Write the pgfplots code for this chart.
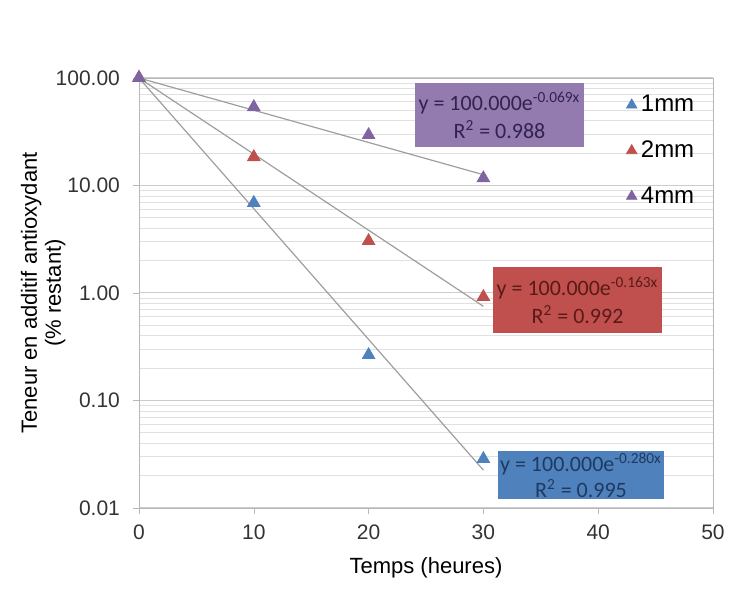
\documentclass[border=0pt]{standalone}
\usepackage{pgfplots}
\pgfplotsset{compat=1.18}
\usepackage{fontspec}
\setmainfont{Liberation Sans}
\newfontfamily\boxfont{Carlito}
\definecolor{c1}{HTML}{4F81BD}
\definecolor{c2}{HTML}{C0504D}
\definecolor{c4}{HTML}{8064A2}
\definecolor{t1}{HTML}{1F3A60}
\definecolor{t2}{HTML}{5A1A18}
\definecolor{t4}{HTML}{33224F}
\begin{document}
\begin{tikzpicture}
\path[use as bounding box] (-69.5pt,-47.5pt) rectangle (295pt,254pt);
\begin{axis}[
  at={(0,0)}, anchor=south west,
  scale only axis, width=287pt, height=215pt,
  ymode=log, log basis y=10,
  xmin=0, xmax=50, ymin=0.01, ymax=100,
  xtick={0,10,20,30,40,50},
  ytick={0.01,0.1,1,10,100},
  yticklabels={0.01,0.10,1.00,10.00,100.00},
  minor ytick={0.02,0.03,0.04,0.05,0.06,0.07,0.08,0.09,
               0.2,0.3,0.4,0.5,0.6,0.7,0.8,0.9,
               2,3,4,5,6,7,8,9,
               20,30,40,50,60,70,80,90},
  ymajorgrids, yminorgrids,
  major grid style={color=black!20, line width=0.5pt},
  minor grid style={color=black!12, line width=0.4pt},
  axis line style={black!28},
  tick align=outside, xtick pos=bottom, ytick pos=left,
  major tick length=3pt, minor tick length=0pt,
  tick style={black!28},
  ticklabel style={font=\fontsize{10.5}{12}\selectfont, text=black!80},
  yticklabel style={xshift=-3pt},
  xticklabel style={yshift=-2pt},
  /pgf/number format/assume math mode=true,
  xlabel={Temps (heures)},
  xlabel style={font=\fontsize{11}{13}\selectfont, yshift=-2pt},
  ylabel={\begin{tabular}{c}Teneur en additif antioxydant\\(\% restant)\end{tabular}},
  ylabel style={font=\fontsize{11}{12}\selectfont, yshift=-13pt},
  clip=false,
  legend style={at={(0.975,0.97)}, anchor=north east, draw=none, fill=none,
    font=\fontsize{12}{14}\selectfont, row sep=9pt, inner sep=0pt},
  legend cell align=left,
  legend image code/.code={\draw[#1, mark size=3pt] plot coordinates {(0.25cm,0cm)};},
]
% trendlines
\addplot[forget plot, black!38, line width=0.6pt] coordinates {(0,100) (30,0.0225)};
\addplot[forget plot, black!38, line width=0.6pt] coordinates {(0,100) (30,0.752)};
\addplot[forget plot, black!38, line width=0.6pt] coordinates {(0,100) (30,12.6)};
% data
\addplot[only marks, mark=triangle*, mark size=3.6pt, color=c1] coordinates {(0,100) (10,6.9) (20,0.265) (30,0.0286)};
\addplot[only marks, mark=triangle*, mark size=3.6pt, color=c2] coordinates {(0,100) (10,18.4) (20,3.05) (30,0.92)};
\addplot[only marks, mark=triangle*, mark size=3.6pt, color=c4] coordinates {(0,100) (10,53.7) (20,29.5) (30,11.7)};
\legend{1mm,2mm,4mm}
% equation boxes
\node[fill=c4!85!white, text=t4, minimum width=82pt, minimum height=32pt, align=center, inner sep=2pt, font=\boxfont\fontsize{11}{14}\selectfont] at (axis cs:31.4,45.3) {y = 100.000e\textsuperscript{-0.069x}\\R\textsuperscript{2} = 0.988};
\node[fill=c2, text=t2, minimum width=80pt, minimum height=33pt, align=center, inner sep=2pt, font=\boxfont\fontsize{11}{14}\selectfont] at (axis cs:38.2,0.861) {y = 100.000e\textsuperscript{-0.163x}\\R\textsuperscript{2} = 0.992};
\node[fill=c1, text=t1, minimum width=81pt, minimum height=24pt, align=center, inner sep=1pt, font=\boxfont\fontsize{11}{13}\selectfont] at (axis cs:38.5,0.0203) {y = 100.000e\textsuperscript{-0.280x}\\R\textsuperscript{2} = 0.995};
\end{axis}
\end{tikzpicture}
\end{document}
